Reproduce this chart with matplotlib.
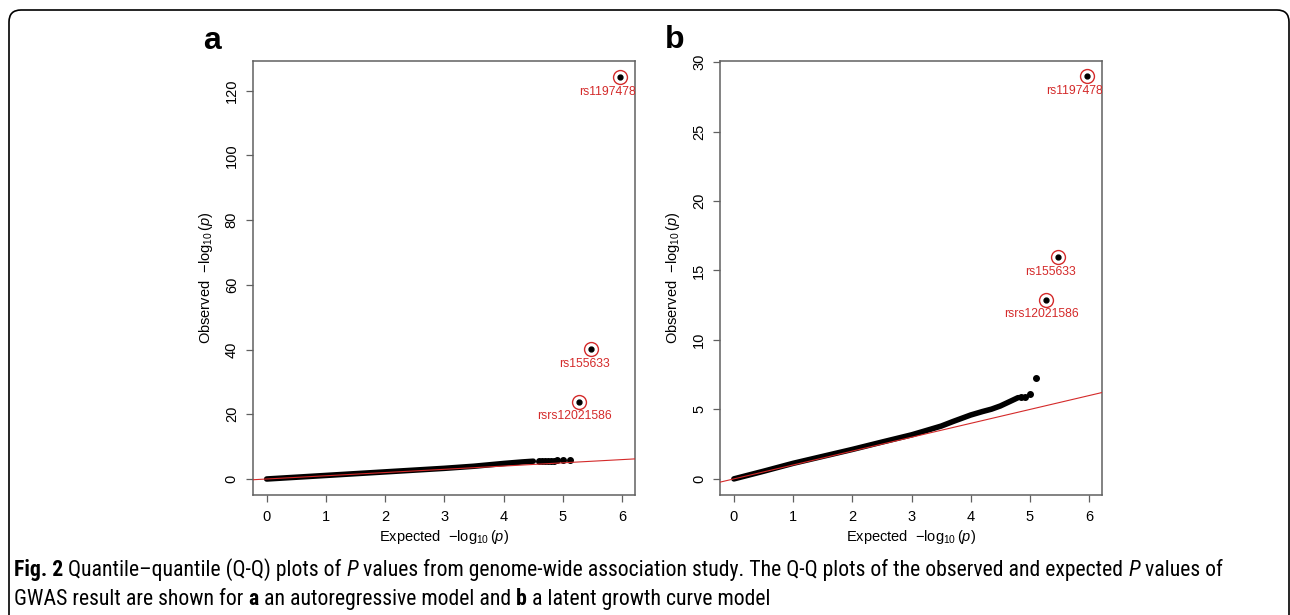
import numpy as np
import matplotlib
matplotlib.use('Agg')
import matplotlib.pyplot as plt
from matplotlib import font_manager
from matplotlib.patches import FancyBboxPatch
from matplotlib.transforms import IdentityTransform

# ---- data ----
xticks = [0, 1, 2, 3, 4, 5, 6]

# panel a: autoregressive model
a_exp = [0, 0.5, 1, 1.5, 2, 2.5, 3, 3.5, 4, 4.3, 4.5]
a_obs = [0, 0.55, 1.1, 1.65, 2.2, 2.75, 3.3, 3.95, 4.8, 5.25, 5.5]
a_tail_exp = [4.6, 4.65, 4.7, 4.75, 4.8, 4.85, 4.9, 5.0, 5.12]
a_tail_obs = [5.55, 5.6, 5.6, 5.65, 5.7, 5.7, 5.8, 5.85, 5.9]
a_hit_exp = [5.27, 5.48, 5.97]
a_hit_obs = [23.8, 40.2, 124.3]
a_yticks = [0, 20, 40, 60, 80, 100, 120]

# panel b: latent growth curve model
b_exp = [0, 0.5, 1, 1.5, 2, 2.5, 3, 3.2, 3.5, 3.7, 4, 4.2, 4.35, 4.5, 4.6, 4.7, 4.8]
b_obs = [0, 0.55, 1.12, 1.62, 2.12, 2.65, 3.17, 3.42, 3.8, 4.13, 4.6, 4.85, 5.02,
         5.25, 5.45, 5.65, 5.85]
b_tail_exp = [4.85, 4.92, 5.0, 5.11]
b_tail_obs = [5.92, 5.92, 6.08, 7.29]
b_hit_exp = [5.27, 5.47, 5.97]
b_hit_obs = [12.9, 16.0, 29.0]
b_yticks = [0, 5, 10, 15, 20, 25, 30]

hit_labels = ['rsrs12021586', 'rs155633', 'rs11974781']
label_offsets = [(-3, -10), (-5, -11), (-7, -11)]   # points

plt.rcParams['font.family'] = ['Liberation Sans', 'DejaVu Sans']
plt.rcParams['mathtext.fontset'] = 'custom'
plt.rcParams['mathtext.rm'] = 'Liberation Sans'
plt.rcParams['mathtext.it'] = 'Liberation Sans:italic'
plt.rcParams['mathtext.bf'] = 'Liberation Sans:bold'

fig = plt.figure(figsize=(12.9, 6.15), dpi=100)
red = '#d42a2a'
frame = '#606060'


def qq_panel(ax, exp, obs, t_exp, t_obs, h_exp, h_obs, yticks, ylim):
    ax.plot(exp, obs, color='black', lw=4.0, solid_capstyle='round', zorder=2)
    ax.plot(t_exp, t_obs, 'o', color='black', ms=4, zorder=2)
    ax.plot(h_exp, h_obs, 'o', color='black', ms=3.5, zorder=3)
    ax.plot(h_exp, h_obs, 'o', mfc='none', mec=red, mew=1.0, ms=10, zorder=3)
    for x, y, lab, off in zip(h_exp, h_obs, hit_labels, label_offsets):
        t = ax.annotate(lab, (x, y), xytext=off, textcoords='offset points',
                        ha='center', va='center', color=red, fontsize=8.8,
                        annotation_clip=False)
        t.set_clip_on(True)
        t.set_clip_box(ax.bbox)
    ax.axline((0, 0), slope=1, color=red, lw=0.8, zorder=4)
    ax.set_xlim(-0.235, 6.215)
    ax.set_ylim(*ylim)
    ax.set_xticks(xticks)
    ax.set_yticks(yticks)
    for s in ax.spines.values():
        s.set_color(frame)
        s.set_linewidth(1.1)
    ax.tick_params(direction='out', length=5, width=0.9, color=frame,
                   labelsize=10.5, pad=5)
    ax.tick_params(axis='x', pad=6)
    for lab in ax.get_yticklabels():
        lab.set_rotation(90)
        lab.set_va('center')
    ax.set_xlabel(r'Expected  $-\log_{10}(\mathit{p})$', fontsize=10.5, labelpad=3)
    ax.set_ylabel(r'Observed  $-\log_{10}(\mathit{p})$', fontsize=10.5, labelpad=7)


ax1 = fig.add_axes([0.1959, 0.1951, 0.2963, 0.7062])
qq_panel(ax1, a_exp, a_obs, a_tail_exp, a_tail_obs, a_hit_exp, a_hit_obs,
         a_yticks, (-4.95, 129.3))
ax2 = fig.add_axes([0.5581, 0.1951, 0.2961, 0.7062])
qq_panel(ax2, b_exp, b_obs, b_tail_exp, b_tail_obs, b_hit_exp, b_hit_obs,
         b_yticks, (-1.16, 30.1))

fig.text(212 / 1290, 1 - 41 / 615, 'a', fontsize=23, fontweight='bold',
         ha='center', va='center')
fig.text(675 / 1290, 1 - 40 / 615, 'b', fontsize=23, fontweight='bold',
         ha='center', va='center')

# rounded frame round the whole figure
fig.patches.append(FancyBboxPatch((9, -40), 1280, 645,
                                  boxstyle='round,pad=0,rounding_size=12',
                                  transform=IdentityTransform(), fill=False,
                                  ec='black', lw=1.2, figure=fig))

# caption font: a narrow face if one with a regular weight is installed
regular = {f.name for f in font_manager.fontManager.ttflist
           if f.weight in (400, 'normal', 'regular', 'book') and f.style == 'normal'}
cap_font = 'Open Sans'
for cand in ['Liberation Sans Narrow', 'Roboto Condensed', 'Open Sans']:
    if cand in regular:
        cap_font = cand
        break

line1 = [('Fig. 2', 'bold', 'normal'),
         (' Quantile\u2013quantile (Q-Q) plots of ', 'normal', 'normal'),
         ('P', 'normal', 'italic'),
         (' values from genome-wide association study. The Q-Q plots of the observed and expected ',
          'normal', 'normal'),
         ('P', 'normal', 'italic'),
         (' values of', 'normal', 'normal')]
line2 = [('GWAS result are shown for ', 'normal', 'normal'),
         ('a', 'bold', 'normal'),
         (' an autoregressive model and ', 'normal', 'normal'),
         ('b', 'bold', 'normal'),
         (' a latent growth curve model', 'normal', 'normal')]

renderer = fig.canvas.get_renderer()


def put_line(pieces, x0, ybase, size):
    arts = []
    x = x0
    for s, w, st in pieces:
        t = fig.text(x, ybase, s, fontsize=size, fontweight=w, fontstyle=st,
                     family=cap_font, ha='left', va='baseline',
                     transform=IdentityTransform())
        arts.append(t)
        x += t.get_window_extent(renderer).width
    return arts, x


size = 12.5
arts, xend = put_line(line1, 14, 615 - 576, size)
for a in arts:
    a.remove()
size = size * (1232 - 14) / (xend - 14)
put_line(line1, 14, 615 - 576, size)
put_line(line2, 14, 615 - 605, size)

fig.savefig('out.png', dpi=100)
